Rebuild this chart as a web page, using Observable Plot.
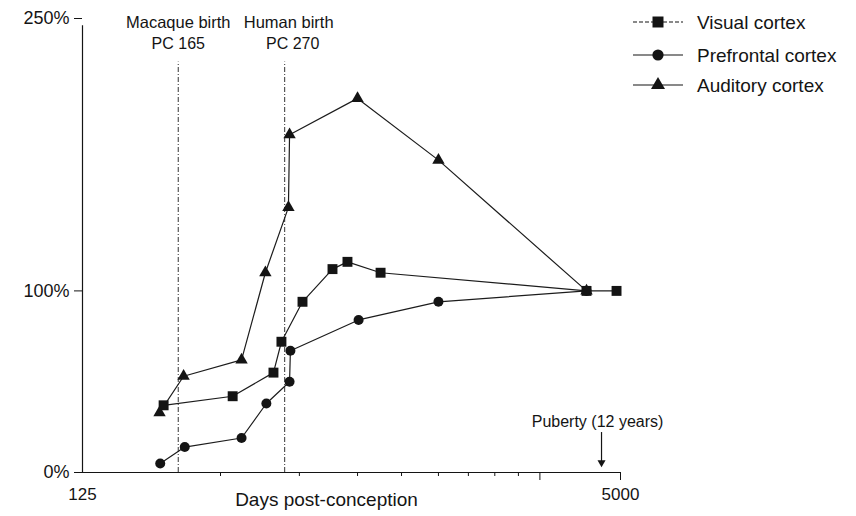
<!DOCTYPE html>
<html><head><meta charset="utf-8">
<script src="https://cdn.jsdelivr.net/npm/d3@7"></script>
<script src="https://cdn.jsdelivr.net/npm/@observablehq/plot@0.6"></script>
<style>
html,body{margin:0;padding:0;background:#fff;}
#chart{width:856px;height:516px;}
</style></head><body><div id="chart"></div>
<script>
// ---- data ----
const seriesNames = ["Visual cortex", "Prefrontal cortex", "Auditory cortex"];
const visualDays = [218, 350, 463, 489, 565, 694, 769, 965, 3961, 4866];
const visualPct  = [37, 42, 55, 72, 94, 112, 116, 110, 100, 100];
const prefrontalDays = [213, 252, 372, 441, 517, 520, 830, 1435, 3961];
const prefrontalPct  = [5, 14, 19, 38, 50, 67, 84, 94, 100];
const auditoryDays = [212, 250, 372, 438, 513, 517, 824, 1435, 3961];
const auditoryPct  = [33, 53, 62, 110, 146, 186, 206, 172, 100];

const birthDays = [241, 500];
const birthNames = ["Macaque birth", "Human birth"];
const birthPC = ["PC 165", "PC 270"];
const pubertyDay = 4390;
const pubertyLabel = ["Puberty (12 years)"];

const xTickValues = [125, 5000];
const xMinorTicks = [322, 553, 824, 1114, 1435, 1762, 2112, 2483];
const xMajorTicks = [2877, 5000];
const yTickValues = [0, 100, 250];
const xLabel = "Days post-conception";

// ---- build ----
const FONT = "'Liberation Sans', Arial, Helvetica, sans-serif";
const INK = "#141414";
const symbols = ["square", "circle", "triangle"];
const radii = [5.6, 5, 4.6];
const raw = [[visualDays, visualPct], [prefrontalDays, prefrontalPct], [auditoryDays, auditoryPct]];
const rows = raw.flatMap(([d, p], i) => d.map((day, j) => ({series: seriesNames[i], day, pct: p[j]})));
const birth = birthDays.map((d, i) => ({day: d, name: birthNames[i], pc: birthPC[i]}));
const nameShift = [0, 4], pcShift = [0, 8];

const plot = Plot.plot({
  width: 856, height: 516,
  marginLeft: 82, marginRight: 236, marginTop: 18, marginBottom: 44,
  style: {fontFamily: FONT, color: INK, background: "#fff"},
  x: {type: "log", domain: [125, 5000], label: null},
  y: {domain: [0, 250], label: null},
  marks: [
    Plot.ruleX(birth, {x: "day", y1: 0, y2: 226, stroke: "#333", strokeWidth: 1, strokeDasharray: "5,2,1,2"}),
    ...birth.map((b, i) => Plot.text([b], {x: "day", text: "name", frameAnchor: "top", lineAnchor: "middle", dy: 4, dx: nameShift[i], fontSize: 16.5, fill: INK})),
    ...birth.map((b, i) => Plot.text([b], {x: "day", text: "pc", frameAnchor: "top", lineAnchor: "middle", dy: 25, dx: pcShift[i], fontSize: 16, fill: INK})),
    Plot.ruleY([0], {stroke: INK, strokeWidth: 1.2}),
    Plot.ruleX([125], {y1: 0, y2: 246, stroke: INK, strokeWidth: 1.2}),
    Plot.axisY({ticks: yTickValues, tickFormat: d => d + "%", tickSize: 8, tickPadding: 5, fontSize: 18, label: null}),
    Plot.axisX({ticks: xTickValues, tickFormat: d => String(d), tickSize: 0, tickPadding: 15, fontSize: 17, label: null}),
    Plot.axisX({ticks: xMinorTicks, tickFormat: () => "", tickSize: 4, label: null}),
    Plot.axisX({ticks: xMajorTicks, tickFormat: () => "", tickSize: 8, label: null}),
    Plot.text([xLabel], {frameAnchor: "bottom", dx: -25, dy: 33, fontSize: 19, fill: INK}),
    Plot.line(rows, {x: "day", y: "pct", z: "series", stroke: "#1c1c1c", strokeWidth: 1.2}),
    ...seriesNames.map((name, i) => Plot.dot(rows.filter(r => r.series === name), {
      x: "day", y: "pct", symbol: symbols[i], r: radii[i], fill: INK, stroke: "none"
    })),
    Plot.text(pubertyLabel, {x: pubertyDay, y: 28, dx: -4, fontSize: 16, fill: INK}),
    Plot.ruleX([pubertyDay], {y1: 22, y2: 6, stroke: INK, strokeWidth: 1.2}),
    Plot.dot([pubertyDay], {x: d => d, y: 5.5, symbol: "triangle", r: 3, rotate: 180, fill: INK, stroke: "none"})
  ]
});
document.getElementById("chart").appendChild(plot);

// ---- legend (top right) ----
const leg = d3.select(plot).append("g").attr("font-family", FONT).attr("font-size", 19)
  .attr("fill", INK).attr("text-anchor", "start");
const rowY = [22, 55, 85];
seriesNames.forEach((name, i) => {
  const g = leg.append("g").attr("transform", `translate(0,${rowY[i]})`);
  g.append("line").attr("x1", 633).attr("x2", 683).attr("y1", 0).attr("y2", 0)
    .attr("stroke", INK).attr("stroke-width", 1.2).attr("stroke-dasharray", i === 0 ? "4,2" : null);
  const sym = [d3.symbolSquare, d3.symbolCircle, d3.symbolTriangle][i];
  const r = radii[i] + 0.6;
  g.append("path").attr("d", d3.symbol(sym, Math.PI * r * r)()).attr("transform", "translate(658,0)").attr("fill", INK);
  g.append("text").attr("x", 697).attr("y", 0).attr("dy", "0.35em").text(name);
});
</script></body></html>
